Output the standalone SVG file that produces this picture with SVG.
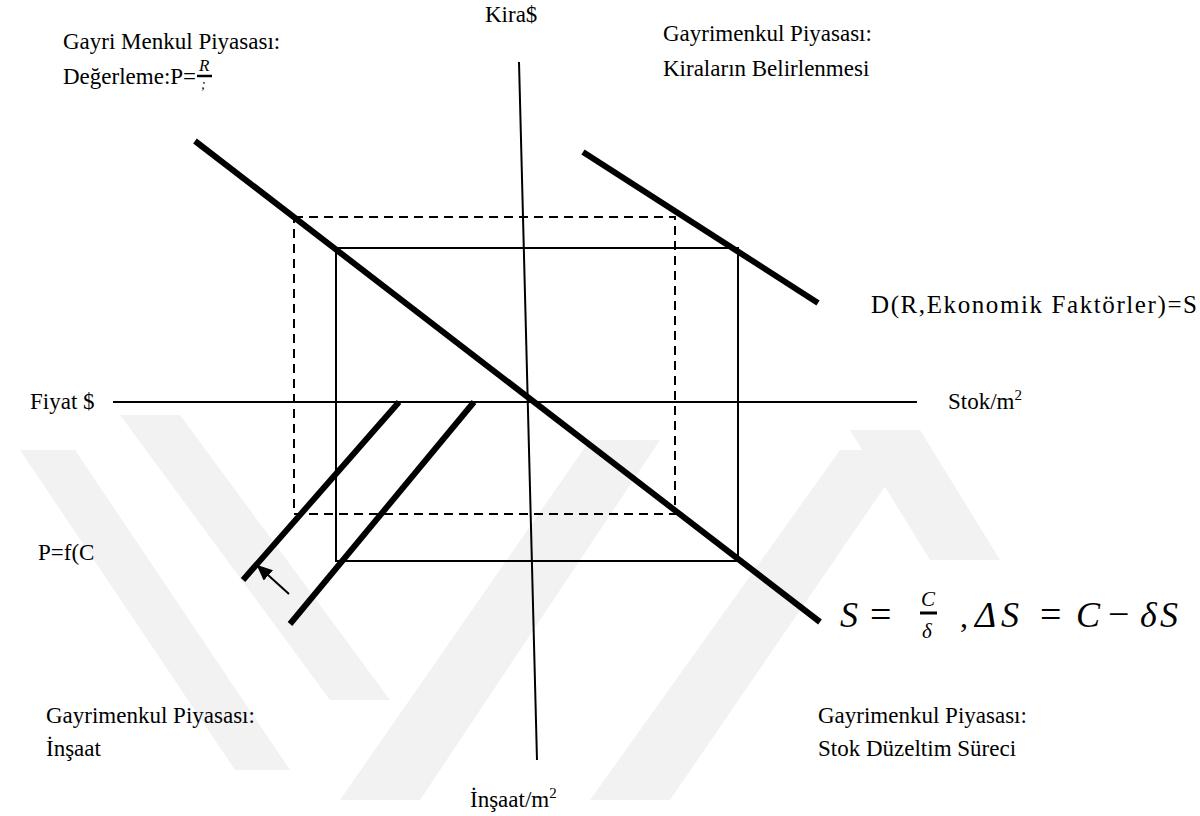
<svg xmlns="http://www.w3.org/2000/svg" width="1200" height="816" viewBox="0 0 1200 816">
<style>
.t{font-family:"Liberation Serif","Times New Roman",serif;font-size:23px;fill:#000}
.m{font-family:"Liberation Serif","Times New Roman",serif;font-style:italic;fill:#000}
.u{font-family:"Liberation Serif","Times New Roman",serif;fill:#000}
.thin{stroke:#000;stroke-width:2;fill:none}
.dash{stroke:#000;stroke-width:2;fill:none;stroke-dasharray:9 6}
.thick{stroke:#000;stroke-width:6;fill:none}
.wm{fill:#f2f2f2}
</style>
<defs>
<marker id="ah" markerWidth="16" markerHeight="14" refX="14" refY="7" orient="auto" markerUnits="userSpaceOnUse">
<path d="M0,0 L16,7 L0,14 Z" fill="#000"/>
</marker>
</defs>
<rect width="1200" height="816" fill="#fff"/>
<g id="watermark">
<polygon class="wm" points="20,450 75,450 290,770 235,770"/>
<polygon class="wm" points="120,415 180,415 390,700 330,700"/>
<polygon class="wm" points="340,800 420,800 660,440 590,440"/>
<polygon class="wm" points="590,800 670,800 910,450 840,450"/>
<polygon class="wm" points="850,430 920,430 1000,560 930,560"/>
<rect x="842" y="583" width="358" height="67" fill="#fff"/>
</g>
<g id="connectors">
<line class="thin" x1="519" y1="62" x2="537" y2="760"/>
<line class="thin" x1="113" y1="402" x2="917" y2="402"/>
<rect class="dash" x="294" y="217" width="381" height="297"/>
<rect class="thin" x="336" y="248" width="402" height="313"/>
<line class="thick" x1="195" y1="141" x2="820" y2="622"/>
<line class="thick" x1="583" y1="152" x2="818" y2="303"/>
<line class="thick" x1="399" y1="402" x2="243" y2="580"/>
<line class="thick" x1="474" y1="402" x2="290" y2="624"/>
<line stroke="#000" stroke-width="2" x1="289" y1="594" x2="258" y2="566" marker-end="url(#ah)"/>
</g>
<g id="n-kira"><text class="t" x="485" y="22">Kira$</text></g>
<g id="n-degerleme">
<text class="t" x="63" y="49">Gayri Menkul Piyasası:</text>
<text class="t" x="63" y="84">Değerleme:P=</text>
<text class="m" x="199" y="71" style="font-size:17px">R</text>
<line x1="197" y1="76" x2="212" y2="76" stroke="#000" stroke-width="2.5"/>
<text class="m" x="201" y="89" style="font-size:14px">;</text>
</g>
<g id="n-kira-belirleme">
<text class="t" x="663" y="41">Gayrimenkul Piyasası:</text>
<text class="t" x="663" y="76">Kiraların Belirlenmesi</text>
</g>
<g id="n-talep"><text class="t" x="871" y="313" style="font-size:25px" textLength="326" lengthAdjust="spacing">D(R,Ekonomik Faktörler)=S</text></g>
<g id="n-fiyat"><text class="t" x="30" y="409">Fiyat $</text></g>
<g id="n-stok"><text class="t" x="948" y="409">Stok/m<tspan style="font-size:15px" dy="-9">2</tspan></text></g>
<g id="n-pfc"><text class="t" x="38" y="560">P=f(C</text></g>
<g id="n-formula">
<text class="m" x="840" y="627" style="font-size:36px">S</text>
<text class="u" x="870" y="627" style="font-size:38px">=</text>
<text class="m" x="921" y="606" style="font-size:21px">C</text>
<line x1="920" y1="613" x2="937" y2="613" stroke="#000" stroke-width="3"/>
<text class="m" x="922" y="638" style="font-size:21px">δ</text>
<text class="u" x="960" y="627" style="font-size:32px">,</text>
<text class="m" x="975" y="627" style="font-size:36px">Δ</text>
<text class="m" x="1001" y="627" style="font-size:36px">S</text>
<text class="u" x="1040" y="627" style="font-size:38px">=</text>
<text class="m" x="1076" y="627" style="font-size:36px">C</text>
<text class="u" x="1108" y="627" style="font-size:38px">−</text>
<text class="m" x="1140" y="627" style="font-size:36px">δ</text>
<text class="m" x="1160" y="627" style="font-size:36px">S</text>
</g>
<g id="n-insaat">
<text class="t" x="46" y="723">Gayrimenkul Piyasası:</text>
<text class="t" x="46" y="756">İnşaat</text>
</g>
<g id="n-stok-duzeltim">
<text class="t" x="818" y="723">Gayrimenkul Piyasası:</text>
<text class="t" x="818" y="756">Stok Düzeltim Süreci</text>
</g>
<g id="n-insaat-m2"><text class="t" x="470" y="807">İnşaat/m<tspan style="font-size:15px" dy="-9">2</tspan></text></g>
</svg>
